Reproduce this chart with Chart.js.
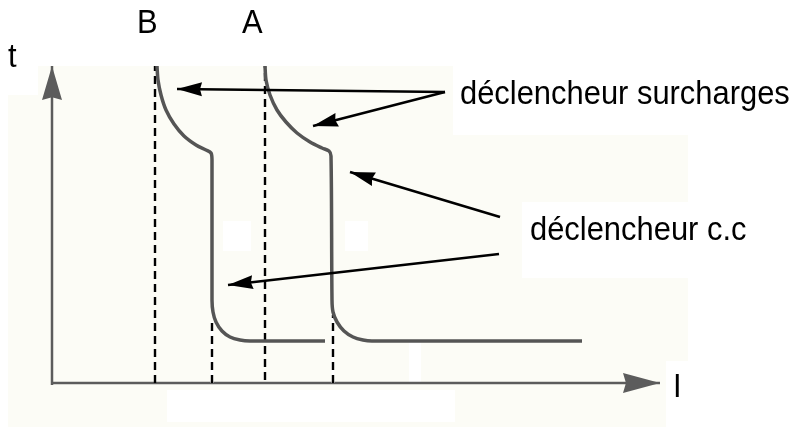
<!DOCTYPE html>
<html><head><meta charset="utf-8">
<script src="https://cdn.jsdelivr.net/npm/chart.js@4/dist/chart.umd.min.js"></script>
<style>html,body{margin:0;padding:0;background:#fff;overflow:hidden}#wrap{width:805px;height:428px;position:relative}</style>
</head><body><div id="wrap"><canvas id="c" width="805" height="428"></canvas></div>
<script>
// Schematic values: current I (x) and time t (y), origin where the axes cross
const curveB_I = [105,106,109,114,122,132,144,154,159,160,160,161,164,170,178,188,198,273];
const curveB_t = [317,303,288,273,259,247,238,233,230,223,83,71,61,52,46,43,42,42];
const curveA_I = [213,214,218,225,234,245,258,270,277,279,280,281,285,292,301,311,320,530];
const curveA_t = [317,303,288,273,261,250,241,235,232,227,83,71,61,52,46,43,42,42];
const settingB_I = 103, settingA_I = 213;         // long dashed verticals (B, A)
const settingB_t = [0,317], settingA_t = [3,317];
const iccB_I = 160, iccA_I = 281;                   // short dashed verticals
const iccB_t = [0,61], iccA_t = [0,68];
const axisI = [0,608], axisT = [-2,317];
const arrowSurchargeFrom = [393,291], arrowSurchargeTo = [[125,294],[261,257]];
const arrowCCFrom = [[448,166],[447,129]], arrowCCTo = [[298,211],[176,98]];
const labels = ["t","B","A","I","déclencheur surcharges","déclencheur c.c"];

const pts = (xs, ys) => xs.map((x,i)=>({x, y: ys[i]}));
const vline = (x, ys) => ys.map(y=>({x, y}));
const seg = (a,b) => [{x:a[0],y:a[1]},{x:b[0],y:b[1]}];

const GRAY = '#555555', AXIS = '#5c5c5c';
// listed bottom to top
const layers = [
  {data: seg([axisI[0],0],[axisI[1],0]), borderColor: AXIS, borderWidth: 2.5, arrowHead:{len:37,half:10,color:AXIS}},
  {data: seg([0,axisT[0]],[0,axisT[1]]), borderColor: AXIS, borderWidth: 2.5, arrowHead:{len:34,half:10,color:AXIS}},
  {data: vline(settingB_I, settingB_t), borderColor:'#000', borderWidth:2.4, borderDash:[8,5]},
  {data: vline(settingA_I, settingA_t), borderColor:'#000', borderWidth:2.4, borderDash:[8,5]},
  {data: vline(iccB_I, iccB_t), borderColor:'#fff', borderWidth:3},
  {data: vline(iccA_I, iccA_t), borderColor:'#fff', borderWidth:3},
  {data: vline(iccB_I, iccB_t), borderColor:'#000', borderWidth:2.4, borderDash:[8,5]},
  {data: vline(iccA_I, iccA_t), borderColor:'#000', borderWidth:2.4, borderDash:[8,5]},
  {data: pts(curveB_I, curveB_t), borderColor: GRAY, borderWidth: 3.5, tension: 0.3},
  {data: pts(curveA_I, curveA_t), borderColor: GRAY, borderWidth: 3.5, tension: 0.3},
  ...arrowSurchargeTo.map(to => ({data: seg(arrowSurchargeFrom, to), borderColor:'#000', borderWidth:2.5, arrowHead:{len:25,half:7,color:'#000'}})),
  ...arrowCCTo.map((to,i) => ({data: seg(arrowCCFrom[i], to), borderColor:'#000', borderWidth:2.5, arrowHead:{len:25,half:7,color:'#000'}})),
];
const N = layers.length;
const datasets = layers.map((d,i)=>Object.assign({showLine:true, pointRadius:0, pointHoverRadius:0, fill:false, tension:0, order: N - i}, d));

const bgPlugin = {
  id:'bg',
  beforeDraw(chart){
    const c = chart.ctx;
    c.save();
    c.fillStyle = '#ffffff'; c.fillRect(0,0,805,428);
    c.fillStyle = '#fcfcf6';
    c.fillRect(38,66,415,30);
    c.fillRect(8,95,445,41);
    c.fillRect(8,135,680,226);
    c.fillRect(8,360,658,67);
    c.fillStyle = '#ffffff';
    c.fillRect(522,202,166,76);
    c.fillRect(167,390,288,32);
    c.fillRect(223,221,28,30);
    c.fillRect(345,221,23,30);
    c.fillRect(409,342,12,41);
    c.restore();
  }
};

const arrowPlugin = {
  id:'arrows',
  afterDatasetsDraw(chart){
    const c = chart.ctx;
    chart.data.datasets.forEach((ds,i)=>{
      if(!ds.arrowHead) return;
      const m = chart.getDatasetMeta(i).data;
      const p1 = m[m.length-2], p2 = m[m.length-1];
      const ang = Math.atan2(p2.y-p1.y, p2.x-p1.x);
      const {len, half, color} = ds.arrowHead;
      c.save();
      c.translate(p2.x, p2.y); c.rotate(ang);
      c.fillStyle = color;
      c.beginPath(); c.moveTo(0,0); c.lineTo(-len, -half); c.lineTo(-len*0.92, 0); c.lineTo(-len, half); c.closePath(); c.fill();
      c.restore();
    });
  }
};

const textPlugin = {
  id:'texts',
  afterDraw(chart){
    const c = chart.ctx;
    const items = [
      [labels[0], 8, 67], [labels[1], 137, 33], [labels[2], 242, 33], [labels[3], 673, 397],
      [labels[4], 460, 104], [labels[5], 530, 240]
    ];
    c.save();
    c.fillStyle = '#000';
    c.font = '30px "Liberation Sans", Arial, sans-serif';
    c.textBaseline = 'alphabetic';
    items.forEach(([s,x,y])=>{
      c.save(); c.translate(x,y); c.scale(1.03,1.12); c.fillText(s,0,0); c.restore();
    });
    c.restore();
  }
};

new Chart(document.getElementById('c'), {
  type:'scatter',
  data:{datasets},
  options:{
    responsive:false, animation:false, devicePixelRatio:1,
    layout:{padding:0},
    plugins:{legend:{display:false}, tooltip:{enabled:false}},
    events:[],
    scales:{
      x:{type:'linear', min:-52, max:753, display:false},
      y:{type:'linear', min:-45, max:383, display:false}
    }
  },
  plugins:[bgPlugin, arrowPlugin, textPlugin]
});
</script></body></html>
